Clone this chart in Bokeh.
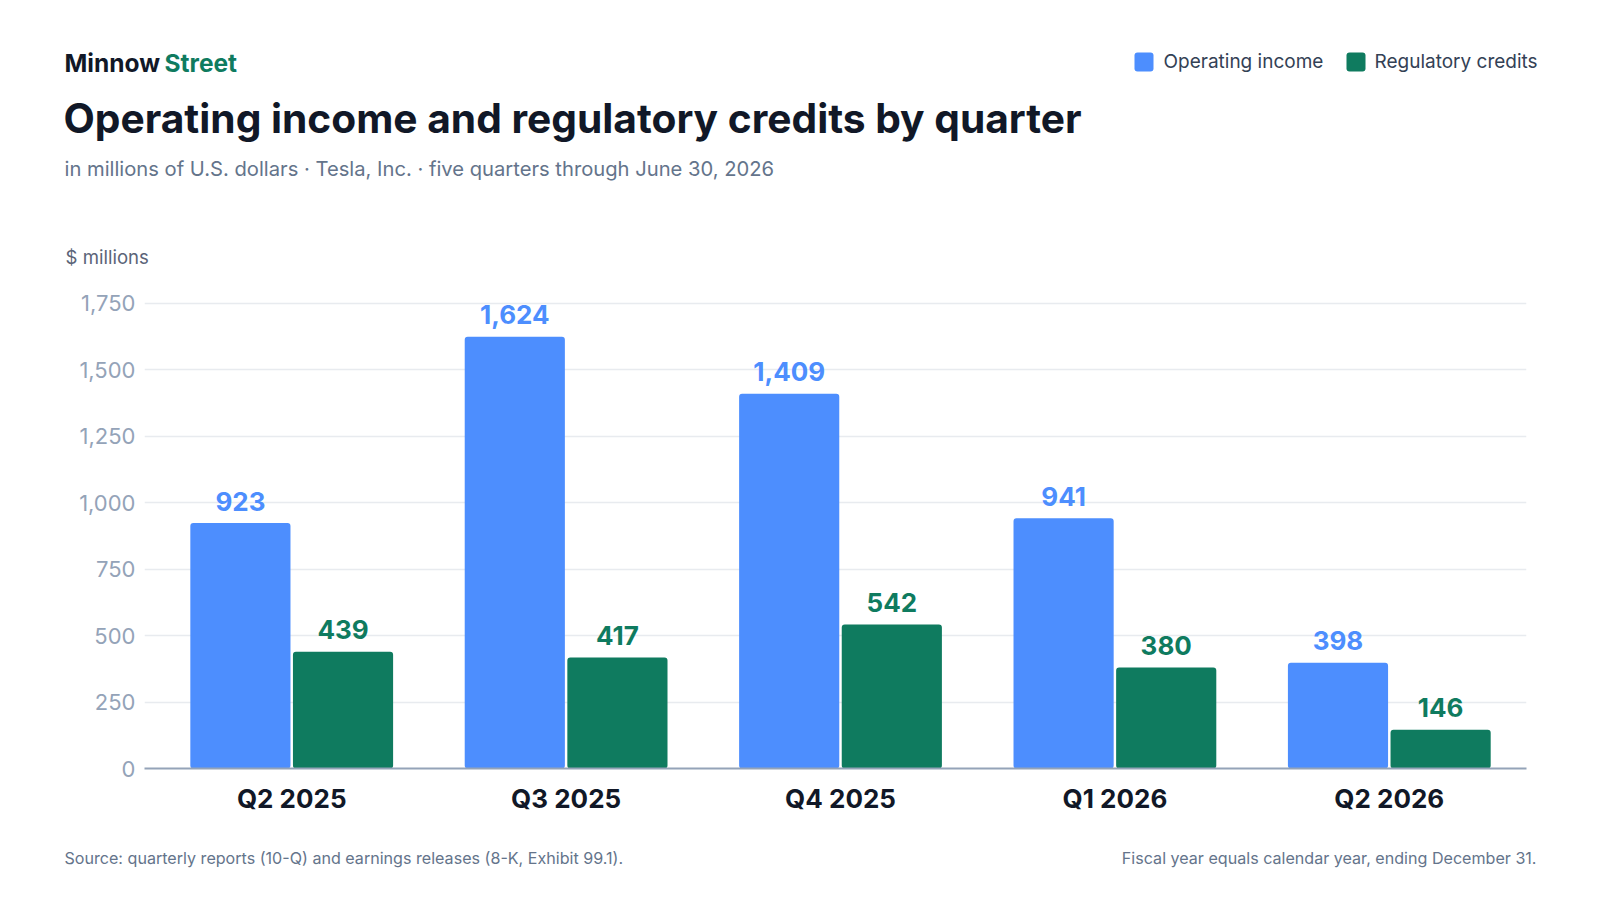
from bokeh.plotting import figure
from bokeh.layouts import column
from bokeh.models import Range1d, FixedTicker, NumeralTickFormatter, ColumnDataSource
from bokeh.core.properties import value
from bokeh.embed import file_html
from bokeh.resources import INLINE

# ---- data ----
quarters = ["Q2 2025", "Q3 2025", "Q4 2025", "Q1 2026", "Q2 2026"]
operating_income = [923, 1624, 1409, 941, 398]
regulatory_credits = [439, 417, 542, 380, 146]
y_ticks = [0, 250, 500, 750, 1000, 1250, 1500, 1750]
series_names = ["Operating income", "Regulatory credits"]

brand = ["Minnow", "Street"]
title = "Operating income and regulatory credits by quarter"
subtitle = "in millions of U.S. dollars \u00b7 Tesla, Inc. \u00b7 five quarters through June 30, 2026"
y_unit = "$ millions"
source_note = "Source: quarterly reports (10-Q) and earnings releases (8-K, Exhibit 99.1)."
fiscal_note = "Fiscal year equals calendar year, ending December 31."

BLUE = "#4d8efe"
GREEN = "#0f7b5f"
DARK = "#111827"
SLATE = "#64748b"
FONT = value("Inter")

W = 1584
HEAD_H, MAIN_H, FOOT_H = 280, 550, 54


def blank(height):
    f = figure(width=W, height=height, output_backend="svg", toolbar_location=None,
               x_range=Range1d(0, W), y_range=Range1d(height, 0),
               x_axis_type=None, y_axis_type=None, min_border=0, frame_align=False)
    f.min_border_left = f.min_border_right = f.min_border_top = f.min_border_bottom = 0
    f.outline_line_color = None
    f.xgrid.grid_line_color = None
    f.ygrid.grid_line_color = None
    f.background_fill_color = "white"
    f.border_fill_color = "white"
    return f


def txt(f, x, y, s, size, color, style="normal", align="left"):
    # y is the intended baseline; Bokeh's alphabetic baseline sits ~0.36em lower, so compensate
    f.text(x=[x], y=[y - 0.36 * size], text=[s], text_font=FONT, text_font_size=f"{size}px", text_color=color,
           text_font_style=style, text_align=align, text_baseline="alphabetic")


# ---- header ----
head = blank(HEAD_H)
txt(head, 64, 71.7, brand[0], 24.5, DARK, "bold")
txt(head, 164, 71.7, brand[1], 24.5, GREEN, "bold")
txt(head, 63, 132.5, title, 40.7, DARK, "bold")
txt(head, 64, 175, subtitle, 20.2, SLATE)
txt(head, 65, 263, y_unit, 18.6, "#5b6478")
for (sq_l, txt_x, color, name) in [(1134, 1163, BLUE, series_names[0]), (1346, 1374, GREEN, series_names[1])]:
    head.quad(left=[sq_l], right=[sq_l + 19], top=[52], bottom=[71], fill_color=color, line_color=None,
              border_radius=3)
    txt(head, txt_x, 67.7, name, 19, "#334155")

# ---- main chart ----
idx = list(range(len(quarters)))
bar_w = 0.365
shift = 0.187

src = ColumnDataSource(dict(
    x_oi=[i - shift for i in idx],
    x_rc=[i + shift for i in idx],
    oi=operating_income,
    rc=regulatory_credits,
    oi_txt=[f"{v:,}" for v in operating_income],
    rc_txt=[f"{v:,}" for v in regulatory_credits],
))

p = figure(width=W, height=MAIN_H, output_backend="svg", toolbar_location=None,
           x_range=Range1d(-0.5365, 4.5), y_range=Range1d(0, 1760), frame_align=False,
           min_border_left=144, min_border_right=58, min_border_top=20, min_border_bottom=62)
p.outline_line_color = None
p.background_fill_color = "white"
p.border_fill_color = "white"

p.vbar(x="x_oi", top="oi", width=bar_w, source=src, fill_color=BLUE, line_color=None, border_radius=3)
p.vbar(x="x_rc", top="rc", width=bar_w, source=src, fill_color=GREEN, line_color=None, border_radius=3)

p.text(x="x_oi", y="oi", text="oi_txt", source=src, text_align="center", text_baseline="alphabetic",
       y_offset=-22, text_font=FONT, text_font_style="bold", text_font_size="26px", text_color=BLUE)
p.text(x="x_rc", y="rc", text="rc_txt", source=src, text_align="center", text_baseline="alphabetic",
       y_offset=-22, text_font=FONT, text_font_style="bold", text_font_size="26px", text_color=GREEN)

p.xaxis.ticker = FixedTicker(ticks=idx)
p.xaxis.major_label_overrides = {i: q for i, q in zip(idx, quarters)}
p.xaxis.major_label_text_font = "Inter"
p.xaxis.major_label_text_font_style = "bold"
p.xaxis.major_label_text_font_size = "26px"
p.xaxis.major_label_text_color = DARK
p.xaxis.axis_line_color = "#94a3b8"
p.xaxis.axis_line_width = 2
p.xaxis.major_tick_line_color = None
p.xaxis.minor_tick_line_color = None
p.xaxis.major_tick_out = 0
p.xaxis.major_tick_in = 0
p.xaxis.major_label_standoff = 14

p.yaxis.ticker = FixedTicker(ticks=y_ticks)
p.yaxis.formatter = NumeralTickFormatter(format="0,0")
p.yaxis.major_label_text_font = "Inter"
p.yaxis.major_label_text_font_size = "22px"
p.yaxis.major_label_text_color = "#94a3b8"
p.yaxis.axis_line_color = None
p.yaxis.major_tick_line_color = None
p.yaxis.minor_tick_line_color = None
p.yaxis.major_tick_out = 0
p.yaxis.major_tick_in = 0
p.yaxis.major_label_standoff = 9

p.xgrid.grid_line_color = None
p.ygrid.grid_line_color = "#e8ebef"
p.ygrid.grid_line_width = 1.5
p.ygrid.ticker = FixedTicker(ticks=y_ticks)

# ---- footer ----
foot = blank(FOOT_H)
txt(foot, 64, 33, source_note, 16.1, SLATE)
txt(foot, 1536, 33, fiscal_note, 16.1, SLATE, align="right")

layout = column(head, p, foot, spacing=0)
open("out.html", "w").write(file_html(layout, INLINE))
